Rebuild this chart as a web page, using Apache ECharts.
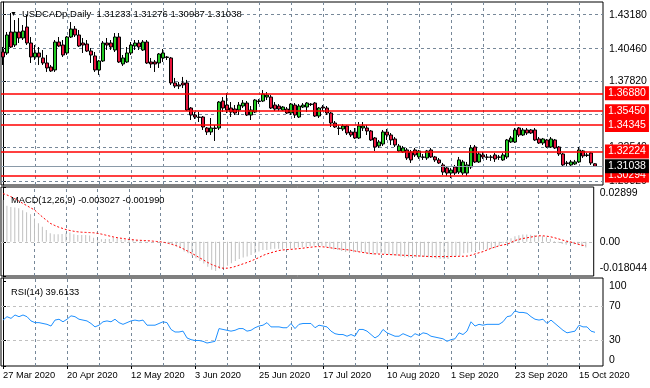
<!DOCTYPE html>
<html><head><meta charset="utf-8">
<script src="https://cdn.jsdelivr.net/npm/echarts@6/dist/echarts.min.js"></script>
<style>html,body{margin:0;padding:0;background:#fff}#c{width:650px;height:388px}</style>
</head><body><div id="c"></div>
<script>
const symbolName = 'USDCADp,Daily';
const opens = [1.4019,1.4011,1.4179,1.4075,1.4179,1.4131,1.4219,1.4091,1.3979,1.4011,1.3971,1.3931,1.3899,1.3875,1.4099,1.4075,1.4011,1.4139,1.4203,1.4155,1.4091,1.4083,1.4027,1.3987,1.3875,1.3947,1.4091,1.4091,1.4035,1.4139,1.3923,1.3939,1.4011,1.4067,1.4091,1.4035,1.4099,1.3939,1.3939,1.3931,1.3971,1.3979,1.3971,1.3771,1.3755,1.3771,1.3771,1.3570,1.3514,1.3498,1.3498,1.3410,1.3378,1.3410,1.3410,1.3626,1.3594,1.3570,1.3562,1.3554,1.3586,1.3610,1.3514,1.3538,1.3626,1.3626,1.3658,1.3658,1.3594,1.3586,1.3554,1.3562,1.3530,1.3594,1.3498,1.3578,1.3578,1.3602,1.3610,1.3506,1.3578,1.3570,1.3530,1.3450,1.3410,1.3402,1.3426,1.3378,1.3378,1.3330,1.3410,1.3410,1.3386,1.3330,1.3266,1.3282,1.3378,1.3354,1.3322,1.3226,1.3218,1.3234,1.3218,1.3234,1.3178,1.3178,1.3170,1.3234,1.3178,1.3154,1.3114,1.3090,1.3049,1.3098,1.3057,1.3049,1.3049,1.3098,1.3258,1.3138,1.3194,1.3178,1.3178,1.3194,1.3178,1.3154,1.3178,1.3298,1.3298,1.3410,1.3354,1.3394,1.3394,1.3394,1.3322,1.3290,1.3314,1.3258,1.3314,1.3258,1.3202,1.3130,1.3114,1.3122,1.3138,1.3226,1.3194,1.3210,1.31233];
const highs = [1.4059,1.4179,1.4331,1.4275,1.4291,1.4235,1.4315,1.4139,1.4075,1.4059,1.4035,1.3995,1.3915,1.4115,1.4139,1.4115,1.4147,1.4259,1.4227,1.4195,1.4131,1.4115,1.4051,1.4019,1.3955,1.4107,1.4131,1.4115,1.4171,1.4171,1.3995,1.4059,1.4099,1.4115,1.4115,1.4115,1.4115,1.3971,1.3955,1.4011,1.4043,1.3987,1.3979,1.3811,1.3779,1.3819,1.3795,1.3578,1.3538,1.3538,1.3506,1.3418,1.3490,1.3434,1.3626,1.3658,1.3690,1.3618,1.3594,1.3618,1.3634,1.3626,1.3586,1.3642,1.3642,1.3714,1.3698,1.3674,1.3618,1.3602,1.3586,1.3578,1.3610,1.3610,1.3602,1.3610,1.3618,1.3610,1.3618,1.3578,1.3594,1.3586,1.3538,1.3466,1.3434,1.3442,1.3434,1.3394,1.3410,1.3458,1.3458,1.3434,1.3394,1.3338,1.3314,1.3394,1.3402,1.3370,1.3338,1.3282,1.3266,1.3250,1.3234,1.3250,1.3234,1.3202,1.3234,1.3250,1.3186,1.3170,1.3130,1.3106,1.3090,1.3114,1.3178,1.3154,1.3138,1.3274,1.3274,1.3218,1.3218,1.3202,1.3194,1.3210,1.3194,1.3210,1.3322,1.3346,1.3410,1.3418,1.3410,1.3410,1.3402,1.3410,1.3338,1.3330,1.3322,1.3338,1.3322,1.3266,1.3210,1.3146,1.3154,1.3154,1.3258,1.3234,1.3210,1.3218,1.31276];
const lows = [1.3915,1.3995,1.4051,1.4059,1.4091,1.4115,1.4075,1.3931,1.3955,1.3915,1.3915,1.3859,1.3859,1.3859,1.4059,1.3979,1.3995,1.4131,1.4139,1.4059,1.4011,1.4019,1.3931,1.3859,1.3835,1.3939,1.4035,1.4035,1.4019,1.3931,1.3907,1.3931,1.3995,1.4035,1.4035,1.4027,1.3923,1.3891,1.3859,1.3891,1.3939,1.3955,1.3755,1.3730,1.3722,1.3730,1.3546,1.3474,1.3482,1.3458,1.3394,1.3354,1.3354,1.3306,1.3394,1.3538,1.3530,1.3498,1.3514,1.3514,1.3570,1.3506,1.3474,1.3530,1.3602,1.3618,1.3634,1.3562,1.3546,1.3546,1.3546,1.3522,1.3514,1.3490,1.3490,1.3570,1.3538,1.3586,1.3498,1.3490,1.3546,1.3514,1.3418,1.3410,1.3354,1.3386,1.3354,1.3338,1.3322,1.3322,1.3386,1.3354,1.3306,1.3226,1.3250,1.3266,1.3314,1.3274,1.3258,1.3218,1.3210,1.3154,1.3130,1.3178,1.3162,1.3154,1.3154,1.3170,1.3138,1.3122,1.3033,1.3025,1.3009,1.3033,1.3041,1.3033,1.3025,1.3081,1.3130,1.3130,1.3162,1.3154,1.3146,1.3138,1.3154,1.3146,1.3162,1.3290,1.3290,1.3338,1.3346,1.3354,1.3362,1.3306,1.3282,1.3274,1.3250,1.3250,1.3242,1.3186,1.3098,1.3106,1.3106,1.3114,1.3130,1.3170,1.3178,1.3114,1.30987];
const closes = [1.3979,1.4155,1.4059,1.4179,1.4131,1.4187,1.4091,1.3979,1.4011,1.3979,1.3931,1.3891,1.3867,1.4099,1.4067,1.3995,1.4139,1.4203,1.4155,1.4067,1.4075,1.4027,1.3995,1.3875,1.3947,1.4091,1.4075,1.4059,1.4139,1.3939,1.3971,1.4011,1.4075,1.4091,1.4059,1.4099,1.3931,1.3923,1.3923,1.4003,1.4011,1.3975,1.3771,1.3746,1.3746,1.3755,1.3554,1.3514,1.3498,1.3494,1.3418,1.3378,1.3410,1.3406,1.3618,1.3570,1.3554,1.3538,1.3530,1.3594,1.3610,1.3514,1.3554,1.3634,1.3622,1.3682,1.3674,1.3570,1.3562,1.3562,1.3578,1.3530,1.3602,1.3514,1.3586,1.3594,1.3610,1.3598,1.3506,1.3570,1.3570,1.3530,1.3450,1.3418,1.3406,1.3426,1.3370,1.3354,1.3330,1.3426,1.3426,1.3386,1.3314,1.3258,1.3298,1.3378,1.3354,1.3314,1.3274,1.3266,1.3250,1.3170,1.3154,1.3194,1.3226,1.3175,1.3226,1.3178,1.3154,1.3130,1.3057,1.3049,1.3073,1.3049,1.3154,1.3138,1.3114,1.3250,1.3138,1.3202,1.3178,1.3175,1.3175,1.3162,1.3175,1.3194,1.3314,1.3330,1.3394,1.3354,1.3394,1.3370,1.3370,1.3314,1.3290,1.3322,1.3258,1.3322,1.3250,1.3202,1.3114,1.3126,1.3138,1.3138,1.3234,1.3186,1.3190,1.3130,1.31038];
const macdMain = [0.0221,0.0191,0.0184,0.0181,0.0177,0.0167,0.0156,0.0146,0.0124,0.0098,0.0080,0.0063,0.0045,0.0040,0.0040,0.0042,0.0045,0.0050,0.0040,0.0036,0.0036,0.0036,0.0033,0.0022,0.0010,0.0014,0.0015,0.0015,0.0022,0.0019,0.0012,0.0010,0.0010,0.0012,0.0010,0.0010,0.0005,0.0005,0.0001,0.0001,0.0005,0.0001,-0.0008,-0.0016,-0.0025,-0.0034,-0.0051,-0.0060,-0.0073,-0.0087,-0.0101,-0.0115,-0.0131,-0.0148,-0.0154,-0.0143,-0.0136,-0.0126,-0.0113,-0.0101,-0.0090,-0.0083,-0.0078,-0.0069,-0.0060,-0.0051,-0.0043,-0.0043,-0.0039,-0.0037,-0.0037,-0.0039,-0.0034,-0.0037,-0.0034,-0.0030,-0.0029,-0.0027,-0.0023,-0.0020,-0.0016,-0.0020,-0.0027,-0.0034,-0.0040,-0.0043,-0.0048,-0.0053,-0.0058,-0.0055,-0.0053,-0.0054,-0.0059,-0.0066,-0.0068,-0.0063,-0.0062,-0.0064,-0.0068,-0.0071,-0.0074,-0.0078,-0.0082,-0.0082,-0.0080,-0.0081,-0.0079,-0.0080,-0.0082,-0.0084,-0.0088,-0.0091,-0.0090,-0.0090,-0.0082,-0.0077,-0.0073,-0.0060,-0.0058,-0.0052,-0.0048,-0.0045,-0.0042,-0.0040,-0.0037,-0.0034,-0.0020,-0.0006,0.0010,0.0019,0.0029,0.0035,0.0039,0.0039,0.0037,0.0036,0.0031,0.0030,0.0024,0.0016,0.0004,-0.0005,-0.0011,-0.0015,-0.0009,-0.0012,-0.0015,-0.0023,-0.003027];
const macdSignal = [0.0255,0.0248,0.0239,0.0228,0.0216,0.0204,0.0192,0.0180,0.0169,0.0150,0.0132,0.0115,0.0098,0.0088,0.0079,0.0072,0.0065,0.0060,0.0056,0.0053,0.0051,0.0050,0.0049,0.0048,0.0045,0.0041,0.0036,0.0031,0.0026,0.0022,0.0019,0.0016,0.0013,0.0011,0.0009,0.0008,0.0007,0.0006,0.0004,0.0002,0.0000,-0.0003,-0.0008,-0.0014,-0.0020,-0.0029,-0.0039,-0.0050,-0.0061,-0.0073,-0.0085,-0.0097,-0.0109,-0.0120,-0.0128,-0.0135,-0.0140,-0.0139,-0.0136,-0.0130,-0.0123,-0.0116,-0.0109,-0.0101,-0.0092,-0.0083,-0.0072,-0.0064,-0.0058,-0.0052,-0.0046,-0.0043,-0.0041,-0.0040,-0.0038,-0.0036,-0.0034,-0.0031,-0.0029,-0.0026,-0.0025,-0.0026,-0.0028,-0.0031,-0.0034,-0.0036,-0.0039,-0.0041,-0.0043,-0.0047,-0.0051,-0.0055,-0.0058,-0.0061,-0.0063,-0.0064,-0.0065,-0.0066,-0.0067,-0.0068,-0.0069,-0.0070,-0.0071,-0.0072,-0.0073,-0.0074,-0.0075,-0.0076,-0.0077,-0.0078,-0.0078,-0.0078,-0.0078,-0.0078,-0.0077,-0.0077,-0.0076,-0.0076,-0.0075,-0.0070,-0.0063,-0.0057,-0.0051,-0.0042,-0.0034,-0.0027,-0.0021,-0.0016,-0.0013,-0.0003,0.0007,0.0013,0.0018,0.0021,0.0025,0.0029,0.0032,0.0032,0.0030,0.0027,0.0022,0.0016,0.0010,0.0004,0.0000,-0.0006,-0.0012,-0.0018,-0.001990];
const rsi = [54,58,56,60,58,60,58,53,51,51,50,49,47,54,55,52,55,59,58,55,54,53,50,46,48,52,53,52,55,51,49,51,53,54,53,54,48,48,48,50,52,51,43,40,40,41,33,31,30,30,29,27,28,29,44,43,42,41,42,44,44,41,42,45,47,48,51,46,46,46,45,45,50,44,49,50,50,50,45,48,47,46,41,38,37,37,35,37,35,43,43,41,37,33,36,43,39,37,35,35,38,36,34,38,36,39,38,35,34,33,32,29,31,32,39,37,41,52,47,49,48,49,49,49,49,52,58,59,65,63,63,62,58,55,54,55,50,54,50,46,42,39,40,41,48,46,46,41,39.6133];
const priceTicks = [1.43180, 1.40460, 1.37820, 1.35180, 1.32540, 1.29820];
const levels = [1.36880, 1.35450, 1.34345, 1.32224, 1.30294];
const dateTicks = ['27 Mar 2020','20 Apr 2020','12 May 2020','3 Jun 2020','25 Jun 2020','17 Jul 2020','10 Aug 2020','1 Sep 2020','23 Sep 2020','15 Oct 2020'];
const dateTickEvery = 16;
const gridEvery = 8;
const macdTicks = [0.02899, 0, -0.018044];
const macdTickLabels = ['0.02899', '0.00', '-0.018044'];
const rsiTicks = [100, 70, 30, 0];
const rsiLevels = [70, 30];

const FONT = '"Liberation Sans", Arial, sans-serif';
const GRIDC = '#778899';
const n = closes.length;
const last = n - 1;
const X_MAX = 150;
const MACD_MIN = -0.018044, MACD_MAX = 0.02899;
const RSI_MIN = 0, RSI_MAX = 103.5;

const vLines = [];
for (let i = gridEvery; i < n; i += gridEvery) vLines.push({xAxis: i});
const dashed = {color: GRIDC, width: 1, type: [3, 3]};
const labelBase = {color: '#000', fontFamily: FONT, fontSize: 10.5};

function xAxisFor(gi, extra) {
  return Object.assign({type: 'value', gridIndex: gi, min: -0.5, max: X_MAX,
    axisLine: {show: false}, axisTick: {show: false}, axisLabel: {show: false}, splitLine: {show: false}}, extra || {});
}
function yAxisFor(gi, min, max, vals, fmt, rich) {
  return {type: 'value', gridIndex: gi, position: 'right', min: min, max: max,
    axisLine: {show: true, lineStyle: {color: '#000'}},
    axisTick: {show: true, customValues: vals, length: 3, lineStyle: {color: '#000'}},
    axisLabel: Object.assign({customValues: vals, formatter: fmt, margin: 6, rich: rich || {}}, labelBase),
    splitLine: {show: false}};
}
const rich = {
  dn6: Object.assign({padding: [12, 0, 0, 0]}, labelBase),
  dn5: Object.assign({padding: [10, 0, 0, 0]}, labelBase),
  up6: Object.assign({padding: [0, 0, 12, 0]}, labelBase),
  up8: Object.assign({padding: [0, 0, 16, 0]}, labelBase)
};

const chart = echarts.init(document.getElementById('c'), null, {renderer: 'canvas'});
const gridBox = {left: 1, width: 602, show: true, borderColor: '#000', borderWidth: 1, backgroundColor: '#fff'};
const boxLabel = (bg) => ({show: true, position: 'end', distance: 2, formatter: p => Number(p.value).toFixed(5), color: '#fff',
  backgroundColor: bg, padding: [2, 3, 1, 3], fontSize: 10.5, fontFamily: FONT});

const option = {
  animation: false,
  backgroundColor: '#fff',
  textStyle: {fontFamily: FONT},
  title: [
    {text: '\u25BC', left: 5, top: 6, textStyle: {fontSize: 7, color: '#000', fontWeight: 'normal'}},
    {text: symbolName + '  ' + [opens[last], highs[last], lows[last], closes[last]].map(v => v.toFixed(5)).join(' '),
      left: 17, top: 4, textStyle: {fontSize: 9.5, color: '#000', fontWeight: 'normal', fontFamily: FONT}},
    {text: 'MACD(12,26,9) ' + macdMain[last].toFixed(6) + ' ' + macdSignal[last].toFixed(6),
      left: 6, top: 191, textStyle: {fontSize: 9.3, color: '#000', fontWeight: 'normal', fontFamily: FONT}},
    {text: 'RSI(14) ' + rsi[last].toFixed(4),
      left: 6, top: 283, textStyle: {fontSize: 9.3, color: '#000', fontWeight: 'normal', fontFamily: FONT}}
  ],
  grid: [
    Object.assign({top: 2, height: 183}, gridBox),
    Object.assign({top: 187, height: 89}, gridBox),
    Object.assign({top: 278, height: 88}, gridBox)
  ],
  xAxis: [
    xAxisFor(0),
    xAxisFor(1),
    xAxisFor(2, {
      axisTick: {show: true, customValues: dateTicks.map((d, k) => k * dateTickEvery), length: 3, lineStyle: {color: '#000'}},
      axisLabel: {show: true, customValues: dateTicks.map((d, k) => k * dateTickEvery),
        formatter: v => dateTicks[Math.round(v / dateTickEvery)] || '', align: 'left',
        color: '#000', fontFamily: FONT, fontSize: 9.3, margin: 5}
    })
  ],
  yAxis: [
    yAxisFor(0, 1.29533, 1.44195, priceTicks, v => v.toFixed(5)),
    yAxisFor(1, MACD_MIN, MACD_MAX, macdTicks, v => {
      const k = macdTicks.indexOf(v);
      const s = k >= 0 ? macdTickLabels[k] : String(v);
      if (v === MACD_MAX) return '{dn6|' + s + '}';
      if (v === MACD_MIN) return '{up8|' + s + '}';
      return s;
    }, rich),
    yAxisFor(2, RSI_MIN, RSI_MAX, rsiTicks, v => {
      if (v === 100) return '{dn5|100}';
      if (v === 0) return '{up6|0}';
      return String(v);
    }, rich)
  ],
  series: [
    {
      type: 'candlestick', xAxisIndex: 0, yAxisIndex: 0, z: 3, barWidth: 3,
      data: opens.map((o, i) => [i, o, closes[i], lows[i], highs[i]]),
      itemStyle: {color: '#22cc22', color0: '#e8143c', borderColor: '#000', borderColor0: '#000', borderWidth: 1},
      markLine: {silent: true, symbol: 'none', z: 1, precision: 5, label: {show: false}, lineStyle: dashed,
        data: vLines.concat(priceTicks.map(v => ({yAxis: v})))}
    },
    {
      type: 'line', xAxisIndex: 0, yAxisIndex: 0, data: [], z: 5, silent: true,
      itemStyle: {color: '#ff0000'},
      markLine: {silent: true, symbol: 'none', z: 5, precision: 5,
        lineStyle: {color: '#ff0000', width: 1.5, type: 'solid', opacity: 1},
        label: boxLabel('#ff0000'),
        data: levels.map(v => ({yAxis: v}))}
    },
    {
      type: 'line', xAxisIndex: 0, yAxisIndex: 0, data: [], z: 5, silent: true,
      itemStyle: {color: '#8a9aa8'},
      markLine: {silent: true, symbol: 'none', z: 5, precision: 5,
        lineStyle: {color: '#8a9aa8', width: 1, type: 'solid', opacity: 1},
        label: boxLabel('#000'),
        data: [{yAxis: closes[last]}]}
    },
    {
      type: 'bar', xAxisIndex: 1, yAxisIndex: 1, barWidth: 1, z: 3,
      data: macdMain.map((v, i) => [i, v]),
      itemStyle: {color: '#c0c0c0'},
      markLine: {silent: true, symbol: 'none', z: 1, precision: 6, label: {show: false}, lineStyle: dashed,
        data: vLines.concat([{yAxis: 0, lineStyle: {color: '#c0c0c0', type: [3, 3], width: 1}}])}
    },
    {
      type: 'line', xAxisIndex: 1, yAxisIndex: 1, z: 4, symbol: 'none',
      data: macdSignal.map((v, i) => [i, v]),
      lineStyle: {color: '#ff0000', width: 1, type: [2, 2]}
    },
    {
      type: 'line', xAxisIndex: 2, yAxisIndex: 2, z: 4, symbol: 'none',
      data: rsi.map((v, i) => [i, v]),
      lineStyle: {color: '#1e90ff', width: 1},
      markLine: {silent: true, symbol: 'none', z: 1, label: {show: false}, lineStyle: dashed,
        data: vLines.concat(rsiLevels.map(v => ({yAxis: v, lineStyle: {color: '#c0c0c0', type: [3, 3], width: 1}})))}
    }
  ]
};
chart.setOption(option);
</script>
</body></html>
